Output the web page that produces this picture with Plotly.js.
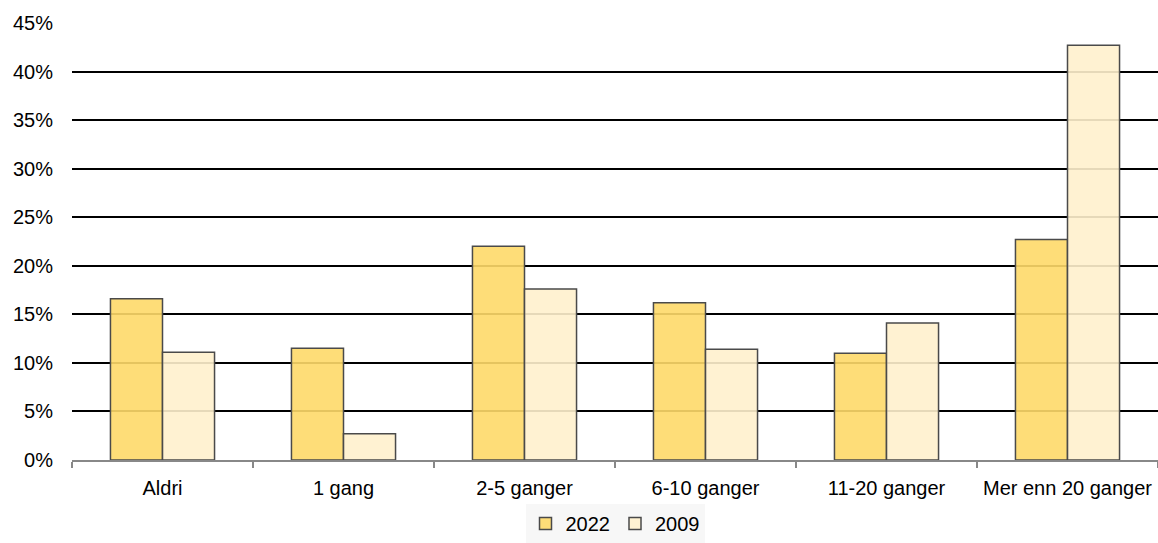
<!DOCTYPE html>
<html>
<head>
<meta charset="utf-8">
<script src="https://cdn.plot.ly/plotly-3.0.1.min.js"></script>
<style>html,body{margin:0;padding:0;background:#fff;}#chart{width:1158px;height:543px;}</style>
</head>
<body>
<div id="chart"></div>
<script>
const categories = ["Aldri", "1 gang", "2-5 ganger", "6-10 ganger", "11-20 ganger", "Mer enn 20 ganger"];
const values2022 = [16.6, 11.5, 22.0, 16.2, 11.0, 22.7];
const values2009 = [11.1, 2.7, 17.6, 11.4, 14.1, 42.7];
const yTickVals = [0, 5, 10, 15, 20, 25, 30, 35, 40, 45];
const yTickText = ["0%", "5%", "10%", "15%", "20%", "25%", "30%", "35%", "40%", "45%"];

const traces = [
  {type: "bar", name: "2022", x: categories, y: values2022,
   marker: {color: "rgba(254,217,105,0.9)", line: {color: "#4a4a4a", width: 1.5}}},
  {type: "bar", name: "2009", x: categories, y: values2009,
   marker: {color: "rgba(255,241,205,0.9)", line: {color: "#4a4a4a", width: 1.5}}}
];

const layout = {
  width: 1158, height: 543,
  margin: {l: 72, r: 0, t: 23, b: 83, autoexpand: false},
  paper_bgcolor: "#fff", plot_bgcolor: "#fff",
  font: {family: "Liberation Sans, Arial, sans-serif", size: 20, color: "#000"},
  barmode: "group", bargap: 0.425, bargroupgap: 0,
  xaxis: {
    showgrid: false, showline: true, linecolor: "#888", linewidth: 1.5,
    ticks: "outside", tickson: "boundaries", ticklen: 6, tickcolor: "#888", tickwidth: 1.5,
    ticklabelstandoff: 9, tickangle: 0, automargin: false,
    tickfont: {size: 20}, fixedrange: true
  },
  yaxis: {
    range: [0, 45], tickvals: yTickVals, ticktext: yTickText,
    showgrid: true, gridcolor: "#000", gridwidth: 2,
    zeroline: false, showline: false, ticks: "", ticklabelstandoff: 18,
    automargin: false,
    tickfont: {size: 20}
  },
  legend: {
    orientation: "h", x: 0.5, xanchor: "center", yref: "container", y: 0, yanchor: "bottom",
    bgcolor: "#f7f7f7", font: {size: 20}, itemwidth: 30, tracegroupgap: 0
  },
  showlegend: true
};

Plotly.newPlot("chart", traces, layout, {displayModeBar: false, staticPlot: true});
</script>
</body>
</html>
